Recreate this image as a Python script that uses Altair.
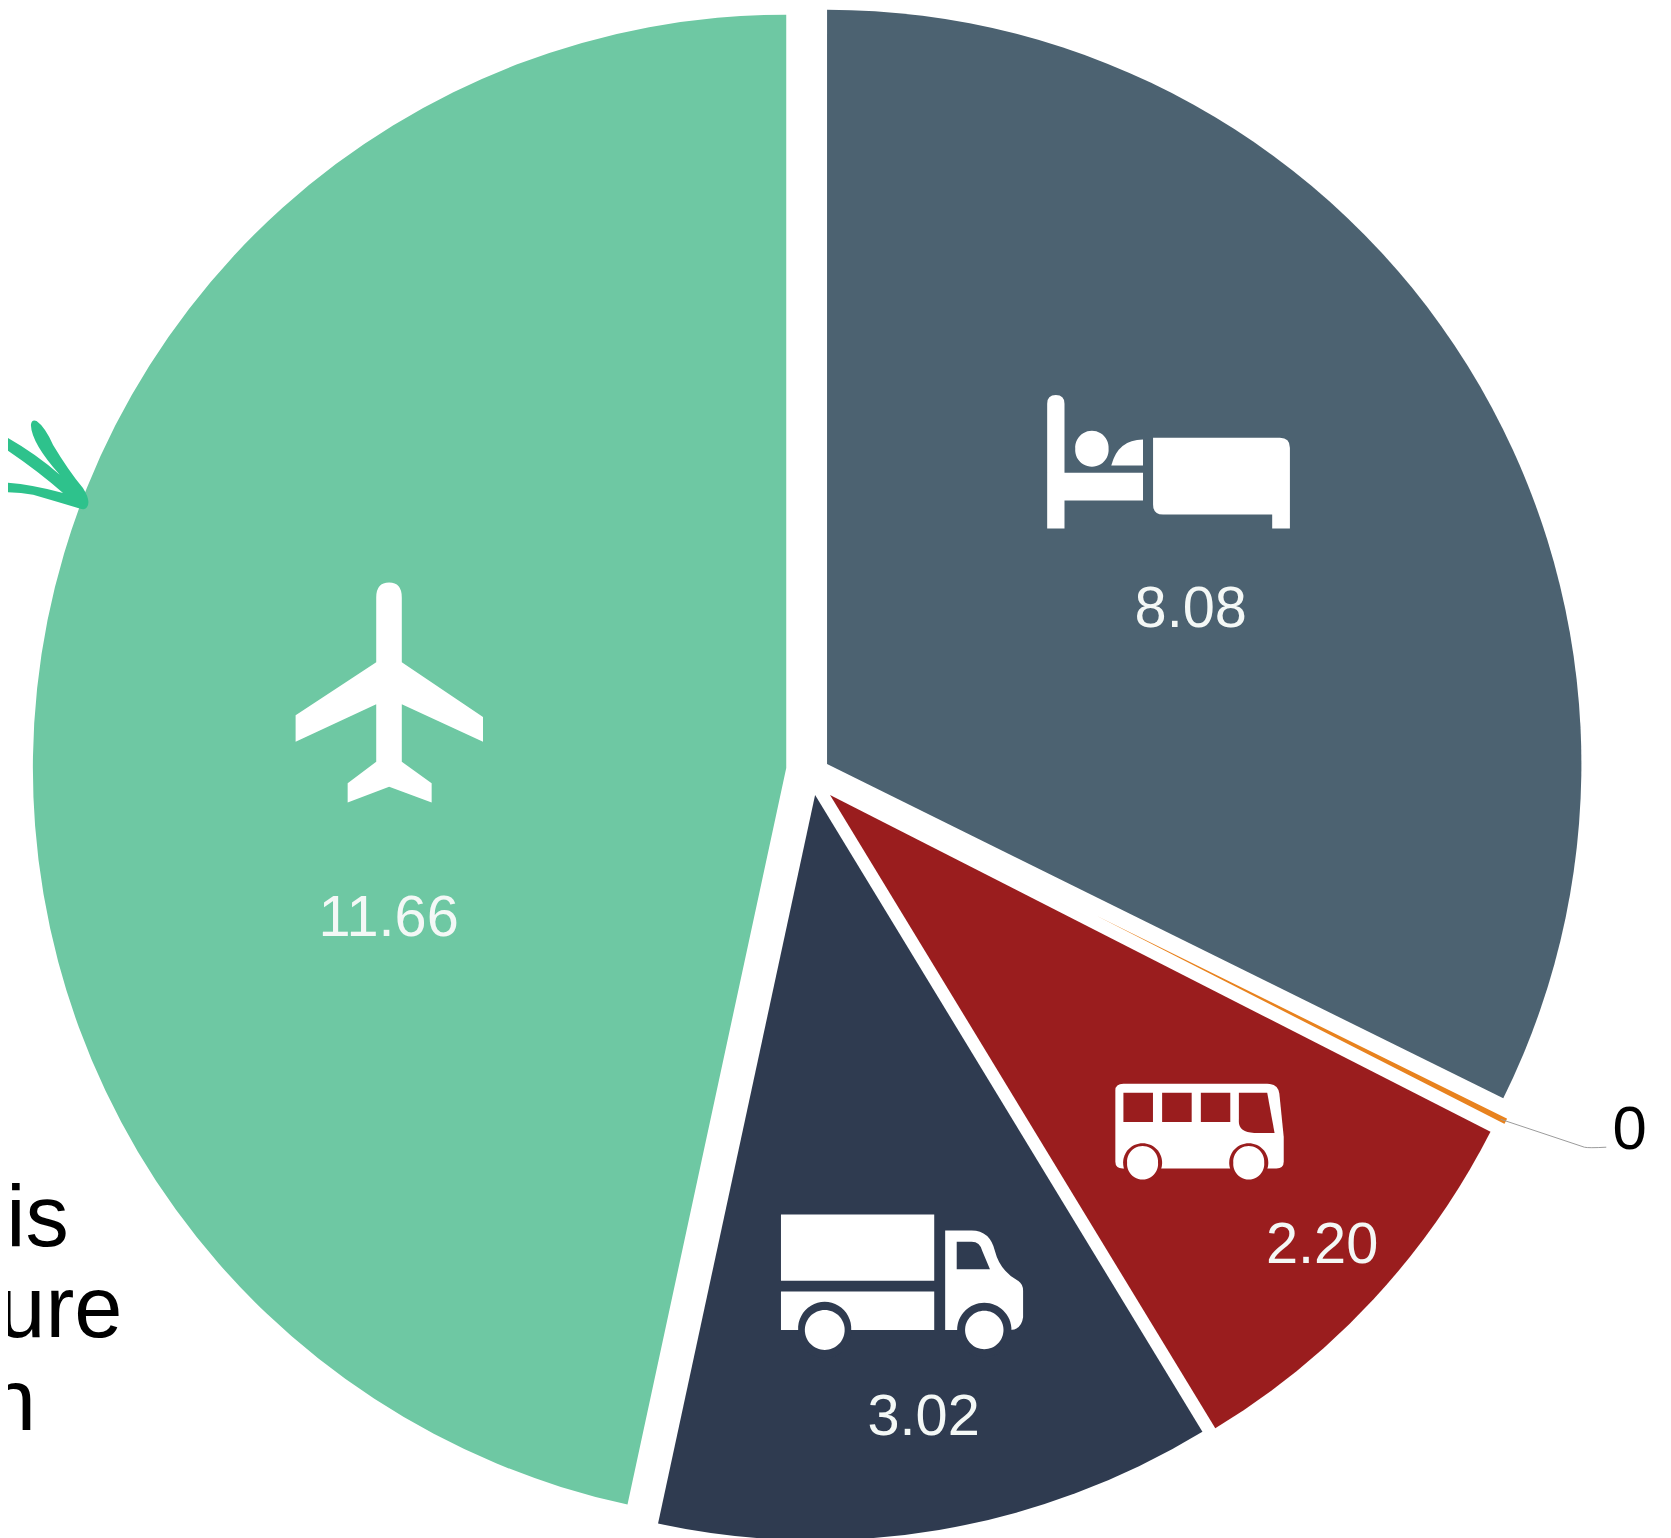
import math
import altair as alt
import pandas as pd

categories = ["Accommodation", "Other", "Bus", "Truck", "Air"]
values = [8.08, 0.05, 2.20, 3.02, 11.66]
labels = ["8.08", "0", "2.20", "3.02", "11.66"]
colors = ["#4C6271", "#E8821E", "#9A1D1E", "#2F3B50", "#6EC8A3"]

PAGE = 8
TOTAL = sum(values)
starts = [sum(values[:i]) for i in range(len(values))]
ends = [s + v for s, v in zip(starts, values)]
df = pd.DataFrame({"cat": categories, "value": values, "label": labels, "start": starts, "end": ends})

# exploded slice origins and radii, page pixels
origin_x = [831, 832, 834, 819, 790]
origin_y = [764, 781, 795, 795, 768]
radii = [758, 764, 745, 749, 757]
# value label anchors, page pixels
label_x = [1196.5, 1637.5, 1328.5, 928, 390.5]
label_y = [626, 1150.5, 1265, 1438, 937]
label_size = [58, 62, 58, 58, 58]

note_lines = ["his", "ure", "n"]
note_right = [69, 123, 36]
note_base = [1248, 1340, 1433]


def poly(points, ox, oy, kx, ky=None):
    ky = ky or kx
    out, ctrl = [], None
    for p in points:
        px, py = ox + p[0] / kx, oy + p[1] / ky
        if len(p) == 3:
            ctrl = (px, py)
        elif not out:
            out.append(f"M{px:.1f},{py:.1f}")
        elif ctrl:
            out.append(f"Q{ctrl[0]:.1f},{ctrl[1]:.1f},{px:.1f},{py:.1f}")
            ctrl = None
        else:
            out.append(f"L{px:.1f},{py:.1f}")
    return "".join(out) + "Z"


def circle(cx, cy, r, ox=0, oy=0, kx=1, ky=None):
    ky = ky or kx
    cx, cy, r = ox + cx / kx, oy + cy / ky, r / kx
    return f"M{cx - r:.1f},{cy:.1f}A{r:.1f},{r:.1f},0,1,1,{cx + r:.1f},{cy:.1f}A{r:.1f},{r:.1f},0,1,1,{cx - r:.1f},{cy:.1f}Z"


WHITE = "#FFFFFF"
BLUE, _, RED, NAVY, _ = colors
C = 1  # marks a curve control point in an icon outline

# plane
plane = poly([(318, 110), (318, 65, C), (357, 65), (395, 65, C), (395, 110), (395, 305), (640, 470), (640, 545),
              (395, 432), (395, 605), (485, 670), (485, 728), (357, 680), (232, 728), (232, 670), (318, 605),
              (318, 432), (75, 545), (75, 465), (318, 305)], 272, 560, 3)

# bed
b = (1026, 369, 2.98)
bed_parts = [
    poly([(78, 472), (78, 98), (78, 72, C), (104, 72), (130, 72, C), (130, 98), (130, 305), (365, 305), (365, 388),
          (130, 388), (130, 472)], *b),
    circle(212, 233, 50, *b),
    poly([(270, 283), (290, 205, C), (365, 205), (365, 283)], *b),
    poly([(395, 200), (775, 200), (805, 200, C), (805, 230), (805, 472), (752, 472), (752, 430), (425, 430),
          (395, 430, C), (395, 400)], *b),
]

# truck
t = (763, 1190, 3)
truck_white = [
    poly([(65, 80), (527, 80), (527, 280), (65, 280)], *t),
    poly([(65, 312), (527, 312), (527, 428), (65, 428)], *t),
    poly([(560, 128), (640, 128), (695, 128, C), (710, 190), (725, 250, C), (780, 280), (795, 290, C), (795, 310),
          (795, 390), (790, 428, C), (755, 428), (560, 428)], *t),
]
truck_dark = [
    poly([(595, 162), (640, 162), (665, 162, C), (672, 190), (695, 245), (595, 245)], *t),
    circle(197, 428, 80, *t),
    circle(678, 428, 82, *t),
]
truck_wheels = [circle(197, 428, 60, *t), circle(678, 428, 58, *t)]

# bus
u = (1095.5, 1062, 2.7, 3)
bus_white = [poly([(68, 90), (68, 70, C), (90, 70), (480, 70), (510, 70, C), (513, 100), (525, 230), (525, 305),
                   (525, 325, C), (505, 325), (88, 325), (68, 325, C), (68, 305)], *u)]
bus_dark = [
    poly([(90, 97), (170, 97), (170, 185), (90, 185)], *u),
    poly([(195, 97), (275, 97), (275, 185), (195, 185)], *u),
    poly([(300, 97), (380, 97), (380, 185), (300, 185)], *u),
    poly([(403, 97), (480, 97), (500, 218), (445, 218), (403, 215, C), (403, 185)], *u),
    circle(142, 308, 53, *u),
    circle(430, 308, 53, *u),
]
bus_wheels = [circle(142, 308, 42, *u), circle(430, 308, 42, *u)]

# hand-drawn arrow
arrow = poly([(-30, 140), (90, 200, C), (180, 280), (95, 185, C), (93, 130), (95, 112, C), (110, 118), (135, 135, C),
              (160, 190), (205, 265, C), (250, 320), (275, 360, C), (262, 378), (255, 388, C), (240, 382),
              (170, 360, C), (100, 340), (40, 328, C), (-30, 335), (-30, 303), (60, 300, C), (190, 335),
              (100, 255, C), (-30, 172)], 0, 380, 3)

blank = alt.Data(values=[{"a": 1}])


def glyph(path, fill):
    return alt.Chart(blank).mark_point(shape=path, size=4, filled=True, fill=fill, opacity=1, strokeWidth=0).encode(
        x=alt.value(-PAGE), y=alt.value(-PAGE))


layers = []
theta_scale = alt.Scale(domain=[0, TOTAL], range=[0, 2 * math.pi])
color_scale = alt.Scale(domain=categories, range=colors)
for cat, ox, oy, r in zip(categories, origin_x, origin_y, radii):
    layers.append(
        alt.Chart(df).transform_filter(alt.datum.cat == cat)
        .mark_arc(outerRadius=r, innerRadius=0, stroke=WHITE, strokeWidth=3.8 if cat == "Other" else 0)
        .encode(theta=alt.Theta("start:Q", scale=theta_scale), theta2=alt.Theta2("end:Q"),
                color=alt.Color("cat:N", scale=color_scale, legend=None),
                x=alt.value(ox - PAGE), y=alt.value(oy - PAGE))
    )

layers.append(glyph(arrow, "#2EC28C"))
layers.append(glyph(plane, WHITE))
for p in bed_parts:
    layers.append(glyph(p, WHITE))
for p in truck_white:
    layers.append(glyph(p, WHITE))
for p in truck_dark:
    layers.append(glyph(p, NAVY))
for p in truck_wheels:
    layers.append(glyph(p, WHITE))
for p in bus_white:
    layers.append(glyph(p, WHITE))
for p in bus_dark:
    layers.append(glyph(p, RED))
for p in bus_wheels:
    layers.append(glyph(p, WHITE))

# leader line to the tiny slice
layers.append(
    alt.Chart(blank).mark_point(shape="M1508,1121L1592,1149Q1596,1150,1614,1149", size=4, filled=False, fill=None,
                                stroke="#9A9A9A", strokeWidth=1, opacity=1)
    .encode(x=alt.value(-PAGE), y=alt.value(-PAGE))
)

for cat, lx, ly, ls in zip(categories, label_x, label_y, label_size):
    layers.append(
        alt.Chart(df).transform_filter(alt.datum.cat == cat)
        .mark_text(font="Liberation Sans", fontSize=ls, align="center", baseline="alphabetic",
                   color="#000000" if cat == "Other" else "#F4F8F6")
        .encode(text="label:N", x=alt.value(lx - PAGE), y=alt.value(ly - PAGE))
    )

notes = pd.DataFrame({"line": note_lines})
for line, nx, ny in zip(note_lines, note_right, note_base):
    layers.append(
        alt.Chart(notes).transform_filter(alt.datum.line == line)
        .mark_text(font="Liberation Sans", fontSize=87, align="right", baseline="alphabetic", color="#000000")
        .encode(text="line:N", x=alt.value(nx - PAGE), y=alt.value(ny - PAGE))
    )

chart = (
    alt.layer(*layers)
    .properties(width=1663, height=1530, padding=0, autosize="none", background="#FFFFFF")
    .configure_view(stroke=None)
)
chart.save("out.html", embed_options={"renderer": "svg", "actions": False})
